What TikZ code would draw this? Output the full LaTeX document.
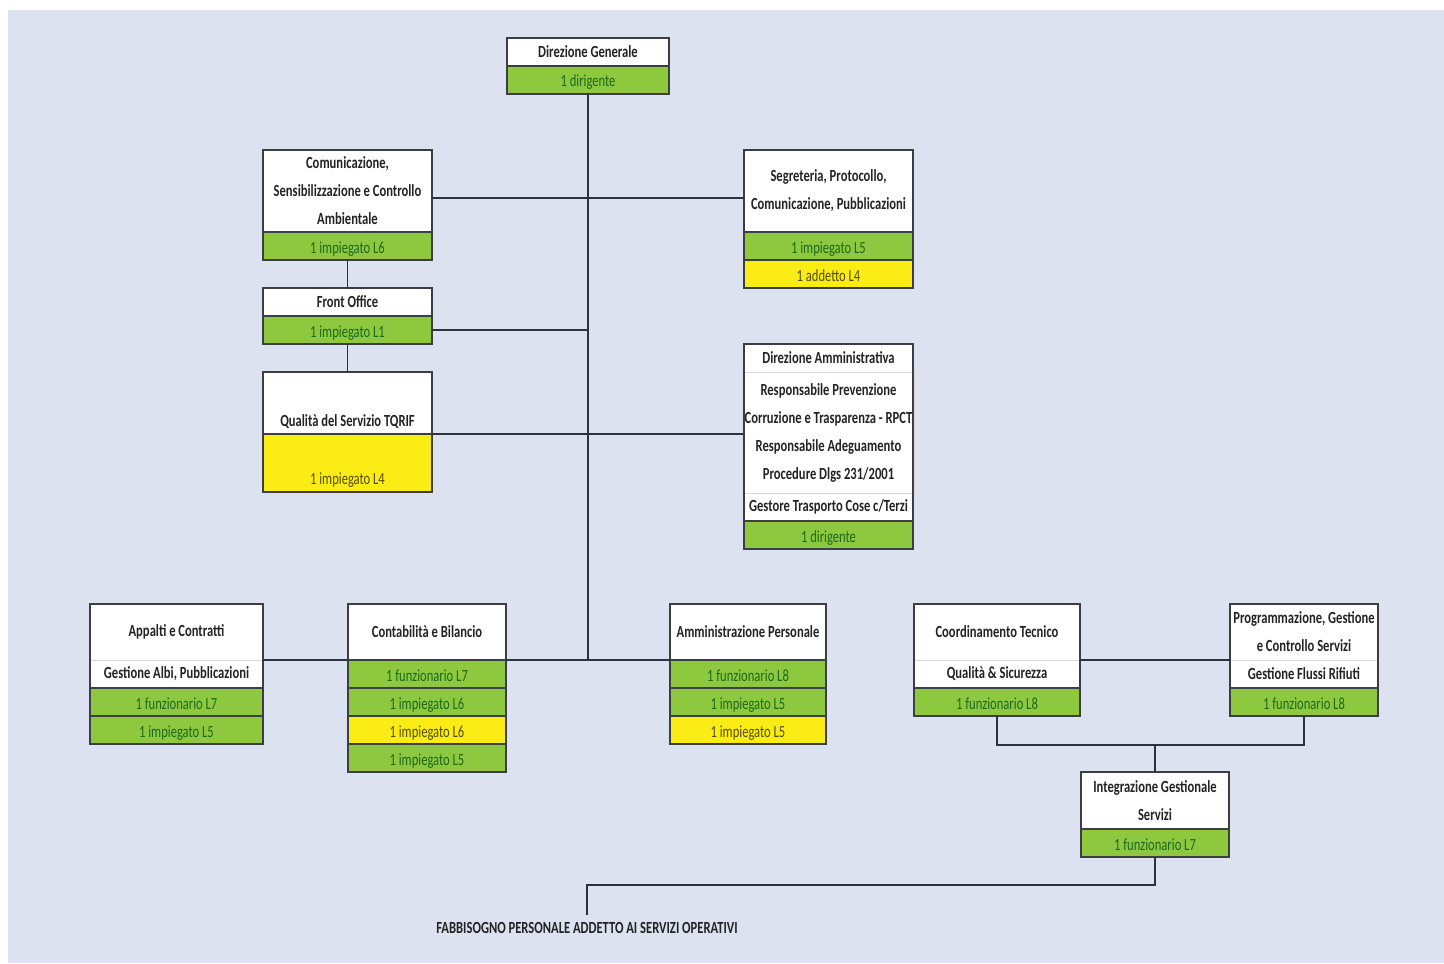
\documentclass[tikz,border=0pt]{standalone}
\usepackage{fontspec}
\setmainfont{Carlito}[FakeStretch=0.74]
\usetikzlibrary{positioning}
\definecolor{pagebg}{RGB}{221,226,240}
\definecolor{cellgreen}{RGB}{141,200,62}
\definecolor{cellyellow}{RGB}{250,236,20}
\definecolor{greentext}{RGB}{28,105,28}
\definecolor{yellowtext}{RGB}{85,75,0}
\definecolor{headtext}{RGB}{35,35,35}
\definecolor{boxline}{RGB}{60,62,68}
\definecolor{linkline}{RGB}{45,50,62}
\definecolor{sepline}{RGB}{215,215,220}

\tikzset{
  cell/.style={rectangle, outer sep=0pt, inner sep=1pt, minimum height=14pt,
    align=center, line width=0.8pt, font=\fontsize{8.5}{14}\selectfont},
  head/.style={cell, fill=white, draw=sepline, line width=0.5pt,
    font=\fontsize{8.5}{14}\selectfont\bfseries, text=headtext},
  greencell/.style={cell, fill=cellgreen, draw=boxline, text=greentext,
    text height=7.5pt, text depth=0.5pt},
  yellowcell/.style={cell, fill=cellyellow, draw=boxline, text=yellowtext,
    text height=7.5pt, text depth=0.5pt},
  frame/.style={draw=boxline, line width=0.8pt},
  link/.style={draw=linkline, line width=0.9pt},
  w/.style={minimum width=#1}
}

\begin{document}
\begin{tikzpicture}[x=0.5pt, y=-0.5pt]
  \useasboundingbox[fill=white] (0,0) rectangle (1444,963);
  \fill[pagebg] (8,10) rectangle (1444,963);

  % Direzione Generale
  \node[head, w=81pt] (dg) at (588,52) {Direzione Generale};
  \node[greencell, w=81pt, below=0pt of dg] (dg1) {1 dirigente};

  % left column
  \node[head, w=84.5pt, minimum height=41pt] (com) at (347.5,191)
    {Comunicazione,\\Sensibilizzazione e Controllo\\Ambientale};
  \node[greencell, w=84.5pt, below=0pt of com] (com1) {1 impiegato L6};

  \node[head, w=84.5pt] (fo) at (347.5,302) {Front Office};
  \node[greencell, w=84.5pt, below=0pt of fo] (fo1) {1 impiegato L1};

  \node[head, w=84.5pt, inner ysep=2pt, text height=25pt, text depth=2pt] (qual) at (347.5,403)
    {Qualità del Servizio TQRIF};
  \node[yellowcell, w=84.5pt, inner ysep=2pt, text height=23pt, text depth=2pt,
    below=0pt of qual] (qual1) {1 impiegato L4};

  % right column
  \node[head, w=84.5pt, minimum height=41pt] (seg) at (828.5,191)
    {Segreteria, Protocollo,\\Comunicazione, Pubblicazioni};
  \node[greencell, w=84.5pt, below=0pt of seg] (seg1) {1 impiegato L5};
  \node[yellowcell, w=84.5pt, below=0pt of seg1] (seg2) {1 addetto L4};

  \node[head, w=84.5pt] (dam) at (828.5,358) {Direzione Amministrativa};
  \node[head, w=84.5pt, minimum height=60.5pt, below=0pt of dam] (dam1)
    {Responsabile Prevenzione\\Corruzione e Trasparenza - RPCT\\Responsabile Adeguamento\\Procedure Dlgs 231/2001};
  \node[head, w=84.5pt, below=0pt of dam1] (dam2) {Gestore Trasporto Cose c/Terzi};
  \node[greencell, w=84.5pt, below=0pt of dam2] (dam3) {1 dirigente};

  % bottom row
  \node[head, w=86.5pt, minimum height=28pt] (ap) at (176.5,632) {Appalti e Contratti};
  \node[head, w=86.5pt, below=0pt of ap] (ap1) {Gestione Albi, Pubblicazioni};
  \node[greencell, w=86.5pt, below=0pt of ap1] (ap2) {1 funzionario L7};
  \node[greencell, w=86.5pt, below=0pt of ap2] (ap3) {1 impiegato L5};

  \node[head, w=79pt, minimum height=28pt] (cb) at (427,632) {Contabilità e Bilancio};
  \node[greencell, w=79pt, below=0pt of cb] (cb1) {1 funzionario L7};
  \node[greencell, w=79pt, below=0pt of cb1] (cb2) {1 impiegato L6};
  \node[yellowcell, w=79pt, below=0pt of cb2] (cb3) {1 impiegato L6};
  \node[greencell, w=79pt, below=0pt of cb3] (cb4) {1 impiegato L5};

  \node[head, w=78pt, minimum height=28pt] (amp) at (748,632) {Amministrazione Personale};
  \node[greencell, w=78pt, below=0pt of amp] (amp1) {1 funzionario L8};
  \node[greencell, w=78pt, below=0pt of amp1] (amp2) {1 impiegato L5};
  \node[yellowcell, w=78pt, below=0pt of amp2] (amp3) {1 impiegato L5};

  \node[head, w=83pt, minimum height=28pt] (co) at (997,632) {Coordinamento Tecnico};
  \node[head, w=83pt, below=0pt of co] (co1) {Qualità \& Sicurezza};
  \node[greencell, w=83pt, below=0pt of co1] (co2) {1 funzionario L8};

  \node[head, w=74pt, minimum height=28pt] (pr) at (1304,632) {Programmazione, Gestione\\e Controllo Servizi};
  \node[head, w=74pt, below=0pt of pr] (pr1) {Gestione Flussi Rifiuti};
  \node[greencell, w=74pt, below=0pt of pr1] (pr2) {1 funzionario L8};

  \node[head, w=74pt, minimum height=28.5pt] (ig) at (1155,800.5) {Integrazione Gestionale\\Servizi};
  \node[greencell, w=74pt, below=0pt of ig] (ig1) {1 funzionario L7};

  \node[font=\fontsize{8.5}{10}\selectfont\bfseries, text=headtext] (fab) at (587,928)
    {FABBISOGNO PERSONALE ADDETTO AI SERVIZI OPERATIVI};

  % outer frames
  \draw[frame] (dg.north west) rectangle (dg1.south east);
  \draw[frame] (com.north west) rectangle (com1.south east);
  \draw[frame] (fo.north west) rectangle (fo1.south east);
  \draw[frame] (qual.north west) rectangle (qual1.south east);
  \draw[frame] (seg.north west) rectangle (seg2.south east);
  \draw[frame] (dam.north west) rectangle (dam3.south east);
  \draw[frame] (ap.north west) rectangle (ap3.south east);
  \draw[frame] (cb.north west) rectangle (cb4.south east);
  \draw[frame] (amp.north west) rectangle (amp3.south east);
  \draw[frame] (co.north west) rectangle (co2.south east);
  \draw[frame] (pr.north west) rectangle (pr2.south east);
  \draw[frame] (ig.north west) rectangle (ig1.south east);

  % connectors
  \draw[link] (dg1.south) -- (dg1.south |- cb.south);
  \draw[link] ([yshift=-3.5pt]com.east) -- ([yshift=-3.5pt]seg.west);
  \draw[link] (com1.south) -- (fo.north);
  \draw[link] (fo1.east) -- (fo1.east -| dg1.south);
  \draw[link] (fo1.south) -- (qual.north);
  \draw[link] (qual.south east) -- (qual.south east -| dam1.west);
  \draw[link] (ap.south east) -- (cb.south west);
  \draw[link] (cb.south east) -- (amp.south west);
  \draw[link] (co.south east) -- (pr.south west);
  \coordinate (tech) at (1155,745);
  \draw[link] (co2.south) |- (tech) -| (pr2.south);
  \draw[link] (tech) -- (ig.north);
  \draw[link] (ig1.south) -- ++(0,28) -| (fab.north);
\end{tikzpicture}
\end{document}
